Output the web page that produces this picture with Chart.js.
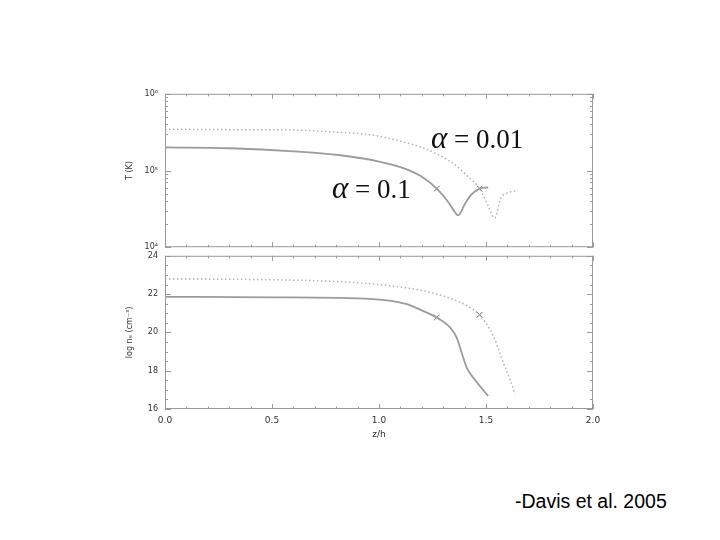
<!DOCTYPE html>
<html>
<head>
<meta charset="utf-8">
<title>Davis et al. 2005</title>
<script src="https://cdn.jsdelivr.net/npm/chart.js@4.4.0/dist/chart.umd.min.js"></script>
<style>
  body { margin: 0; background: #fff; }
  #wrap { position: relative; width: 720px; height: 540px; overflow: hidden; background: #fff; }
  canvas { position: absolute; }
  .lbl { position: absolute; font-family: "Liberation Serif", "DejaVu Serif", serif; font-size: 27px; color: #111; white-space: nowrap; line-height: 1; }
  .lbl i { font-style: italic; font-size: 31px; }
  #cite { position: absolute; left: 515px; top: 490px; font-family: "Liberation Sans", Arial, sans-serif; font-size: 19.5px; color: #000; white-space: nowrap; }
</style>
</head>
<body>
<div id="wrap">
  <canvas id="topChart" width="490" height="177" style="left:120px; top:82px;"></canvas>
  <canvas id="botChart" width="490" height="205" style="left:120px; top:244px;"></canvas>
  <div class="lbl" style="left:332px; top:172px;"><i>α</i> = 0.1</div>
  <div class="lbl" style="left:431px; top:122px;"><i>α</i> = 0.01</div>
  <div id="cite">-Davis et al. 2005</div>
</div>
<script>
// x positions (z/h) and values

// top panel: temperature T (K), log axis
const solidTz = [0, 0.3, 0.6, 0.82, 1.0, 1.12, 1.2, 1.27, 1.32, 1.35, 1.37, 1.40, 1.43, 1.47, 1.51];
const solidT  = [2.0e5, 1.95e5, 1.78e5, 1.58e5, 1.31e5, 1.06e5, 8.3e4, 5.8e4, 4.0e4, 3.0e4, 2.6e4, 3.6e4, 4.8e4, 5.8e4, 6.0e4];
const dotTz = [0, 0.3, 0.62, 0.8, 0.97, 1.1, 1.21, 1.3, 1.36, 1.42, 1.47, 1.51, 1.54, 1.57, 1.60, 1.65];
const dotT  = [3.46e5, 3.41e5, 3.36e5, 3.16e5, 2.89e5, 2.41e5, 1.95e5, 1.48e5, 1.16e5, 8.1e4, 5.8e4, 3.46e4, 2.4e4, 4.4e4, 5.1e4, 5.5e4];
const markTz = [1.27, 1.47];
const markT  = [5.8e4, 5.8e4];

// bottom panel: log n_e (cm^-3)
const solidNz = [0, 0.5, 0.97, 1.13, 1.2, 1.27, 1.332, 1.363, 1.386, 1.41, 1.44, 1.51];
const solidN  = [21.86, 21.83, 21.74, 21.48, 21.15, 20.78, 20.26, 19.73, 18.95, 18.16, 17.64, 16.68];
const dotNz = [0, 0.5, 0.97, 1.24, 1.38, 1.425, 1.47, 1.534, 1.558, 1.581, 1.612, 1.636];
const dotN  = [22.79, 22.75, 22.53, 22.09, 21.57, 21.3, 20.92, 19.82, 19.12, 18.42, 17.55, 16.77];
const markNz = [1.27, 1.47];
const markN  = [20.78, 20.92];

// ticks
const xTicks = [0, 0.5, 1.0, 1.5, 2.0];
const xTickLabels = ['0.0', '0.5', '1.0', '1.5', '2.0'];
const tTicks = [1e4, 1e5, 1e6];
const tTickLabels = ['10\u2074', '10\u2075', '10\u2076'];
const nTicks = [16, 18, 20, 22, 24];
const nTickLabels = ['16', '18', '20', '22', '24'];

const pts = (xs, ys) => xs.map((x, i) => ({ x: x, y: ys[i] }));
const axisFont = { family: 'DejaVu Sans', size: 8 };
const axisColor = '#333';

// IDL style frame with inward ticks on all four sides
const idlFrame = {
  id: 'idlFrame',
  afterDatasetsDraw(chart, args, opts) {
    const { ctx, chartArea: a, scales } = chart;
    ctx.save();
    ctx.strokeStyle = '#9a9a9a';
    ctx.lineWidth = 1;
    ctx.strokeRect(a.left + 0.5, a.top + 0.5, a.right - a.left - 1, a.bottom - a.top - 1);
    ctx.beginPath();
    // x ticks every 0.1, major every 0.5
    for (let i = 0; i <= 20; i++) {
      const px = Math.round(scales.x.getPixelForValue(i / 10)) + 0.5;
      const len = i % 5 === 0 ? 5 : 2.5;
      ctx.moveTo(px, a.bottom); ctx.lineTo(px, a.bottom - len);
      ctx.moveTo(px, a.top); ctx.lineTo(px, a.top + len);
    }
    // y ticks
    const ys = scales.y;
    const yt = [];
    if (opts.log) {
      for (let d = 1e4; d < 1e6; d *= 10) {
        for (let m = 1; m < 10; m++) yt.push({ v: d * m, major: m === 1 });
      }
      yt.push({ v: 1e6, major: true });
    } else {
      for (let v = 16; v <= 24; v += 0.5) yt.push({ v: v, major: v % 2 === 0 });
    }
    yt.forEach(t => {
      const py = Math.round(ys.getPixelForValue(t.v)) + 0.5;
      const len = t.major ? 6 : 3;
      ctx.moveTo(a.left, py); ctx.lineTo(a.left + len, py);
      ctx.moveTo(a.right, py); ctx.lineTo(a.right - len, py);
    });
    ctx.stroke();
    ctx.restore();
  }
};

function lineSet(data, dotted) {
  return {
    data: data,
    borderColor: dotted ? '#b4b4b4' : '#9c9c9c',
    borderWidth: dotted ? 1.5 : 1.8,
    borderDash: dotted ? [1.5, 2.5] : [],
    pointRadius: 0,
    fill: false,
    cubicInterpolationMode: 'monotone'
  };
}

function markSet(data) {
  return {
    data: data,
    showLine: false,
    pointStyle: 'crossRot',
    pointRadius: 4,
    borderColor: '#6a6a6a',
    borderWidth: 1
  };
}

const xScale = (show) => ({
  type: 'linear',
  min: 0,
  max: 2,
  display: show,
  grid: { display: false, drawTicks: false },
  border: { display: false },
  afterBuildTicks: s => { s.ticks = xTicks.map(v => ({ value: v })); },
  ticks: {
    font: { family: 'DejaVu Sans', size: 9 },
    color: axisColor,
    padding: 6,
    maxRotation: 0,
    callback: (v, i) => xTickLabels[i]
  },
  title: {
    display: true,
    text: 'z/h',
    font: { family: 'DejaVu Sans', size: 9 },
    color: axisColor,
    padding: { top: 0, bottom: 9 }
  },
  afterFit: s => { s.height = show ? 40 : 0; }
});

Chart.defaults.animation = false;

new Chart(document.getElementById('topChart'), {
  type: 'line',
  data: {
    datasets: [
      lineSet(pts(solidTz, solidT), false),
      lineSet(pts(dotTz, dotT), true),
      markSet(pts(markTz, markT))
    ]
  },
  options: {
    responsive: false,
    layout: { padding: { left: 1, right: 17, top: 10, bottom: 8 } },
    plugins: { legend: { display: false }, tooltip: { enabled: false }, idlFrame: { log: true } },
    scales: {
      x: xScale(false),
      y: {
        type: 'logarithmic',
        min: 1e4,
        max: 1e6,
        grid: { display: false, drawTicks: false },
        border: { display: false },
        afterBuildTicks: s => { s.ticks = tTicks.map(v => ({ value: v })); },
        ticks: { font: axisFont, color: axisColor, padding: 7, callback: (v, i) => tTickLabels[i] },
        title: { display: true, text: 'T (K)', font: axisFont, color: axisColor },
        afterFit: s => { s.width = 44; }
      }
    }
  },
  plugins: [idlFrame]
});

new Chart(document.getElementById('botChart'), {
  type: 'line',
  data: {
    datasets: [
      lineSet(pts(solidNz, solidN), false),
      lineSet(pts(dotNz, dotN), true),
      markSet(pts(markNz, markN))
    ]
  },
  options: {
    responsive: false,
    layout: { padding: { left: 1, right: 17, top: 10, bottom: 0 } },
    plugins: { legend: { display: false }, tooltip: { enabled: false }, idlFrame: { log: false } },
    scales: {
      x: xScale(true),
      y: {
        type: 'linear',
        min: 16,
        max: 24,
        grid: { display: false, drawTicks: false },
        border: { display: false },
        afterBuildTicks: s => { s.ticks = nTicks.map(v => ({ value: v })); },
        ticks: { font: axisFont, color: axisColor, padding: 7, callback: (v, i) => nTickLabels[i] },
        title: { display: true, text: 'log n\u2091 (cm\u207B\u00B3)', font: axisFont, color: axisColor },
        afterFit: s => { s.width = 44; }
      }
    }
  },
  plugins: [idlFrame]
});
</script>
</body>
</html>
